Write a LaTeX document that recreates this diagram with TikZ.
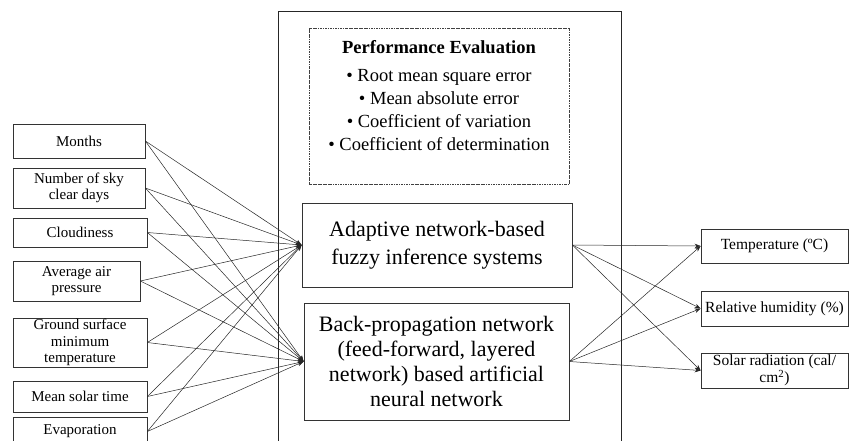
\documentclass[tikz,border=0pt]{standalone}
\usepackage{fontspec}
\setmainfont{Liberation Serif}
\usetikzlibrary{arrows.meta}

\begin{document}
\begin{tikzpicture}[x=1pt,y=-1pt,
  boxline/.style={draw=black!80,line width=0.7pt,align=center,inner sep=0pt},
  inbox/.style={boxline,font=\fontsize{15}{16.5}\selectfont},
  outbox/.style={boxline,font=\fontsize{15.5}{17}\selectfont},
  model/.style={boxline,font=\fontsize{22}{26}\selectfont},
  evalframe/.style={draw=black!75,line width=0.6pt,dash pattern=on 2.5pt off 1pt on 0.6pt off 1pt},
  evaltext/.style={align=center,inner sep=0pt,font=\fontsize{18.5}{23}\selectfont},
  flow/.style={-{Stealth[length=6pt,width=4.5pt]},line width=0.5pt,draw=black!85}]
\useasboundingbox (0,0) rectangle (849,440);
\clip (0,0) rectangle (849,440);

% outer frame around the modelling stage (open at the bottom)
\draw[black!85,line width=0.7pt] (278,460) |- (621,11) -- (621,460);

% performance evaluation block
\node[evalframe,minimum width=260,minimum height=156] (perf) at (439,106) {};
\node[evaltext,font=\fontsize{18.5}{23}\selectfont\bfseries] (perftitle) at (439,47) {Performance Evaluation};
\node[evaltext] (perflist) at (439,110.5) {• Root mean square error\\• Mean absolute error\\• Coefficient of variation\\• Coefficient of determination};

% input variables
\node[inbox,minimum width=132,minimum height=34] (months) at (79,141) {Months};
\node[inbox,minimum width=132,minimum height=40] (sky) at (79,188) {Number of sky\\clear days};
\node[inbox,minimum width=134,minimum height=29] (cloud) at (80,232.5) {Cloudiness};
\node[inbox,minimum width=127,minimum height=40] (air) at (76.5,281) {Average air\\pressure};
\node[inbox,minimum width=134,minimum height=49] (ground) at (80,342.5) {Ground surface\\minimum\\temperature};
\node[inbox,minimum width=134,minimum height=31] (mst) at (80,396.5) {Mean solar time};
\node[inbox,minimum width=134,minimum height=29] (evap) at (80,431.5) {\raisebox{-1pt}{Evaporation}};

% models
\node[model,font=\fontsize{22}{28}\selectfont,minimum width=270,minimum height=84] (anfis) at (437,245) {Adaptive network-based\\fuzzy inference systems};
\node[model,font=\fontsize{22}{25}\selectfont,minimum width=265,minimum height=117] (bpn) at (436.5,361.5) {Back-propagation network\\(feed-forward, layered\\network) based artificial\\neural network};

% outputs
\node[outbox,minimum width=147,minimum height=34] (temp) at (774.5,246) {Temperature (ºC)};
\node[outbox,minimum width=147,minimum height=35] (rh) at (774.5,308.5) {Relative humidity (\%)};
\node[outbox,minimum width=147,minimum height=35] (solar) at (774.5,370.5) {Solar radiation (cal/\\cm\textsuperscript{2})};

% every input feeds both models
\foreach \n in {months,sky,cloud,air,ground,mst,evap}{
  \draw[flow] (\n.east) -- (anfis.west);
  \draw[flow] (\n.east) -- (bpn.west);
}

% every model predicts all outputs
\foreach \m in {anfis,bpn}{
  \foreach \o in {temp,rh,solar}{
    \draw[flow] (\m.east) -- (\o.west);
  }
}
\end{tikzpicture}
\end{document}
